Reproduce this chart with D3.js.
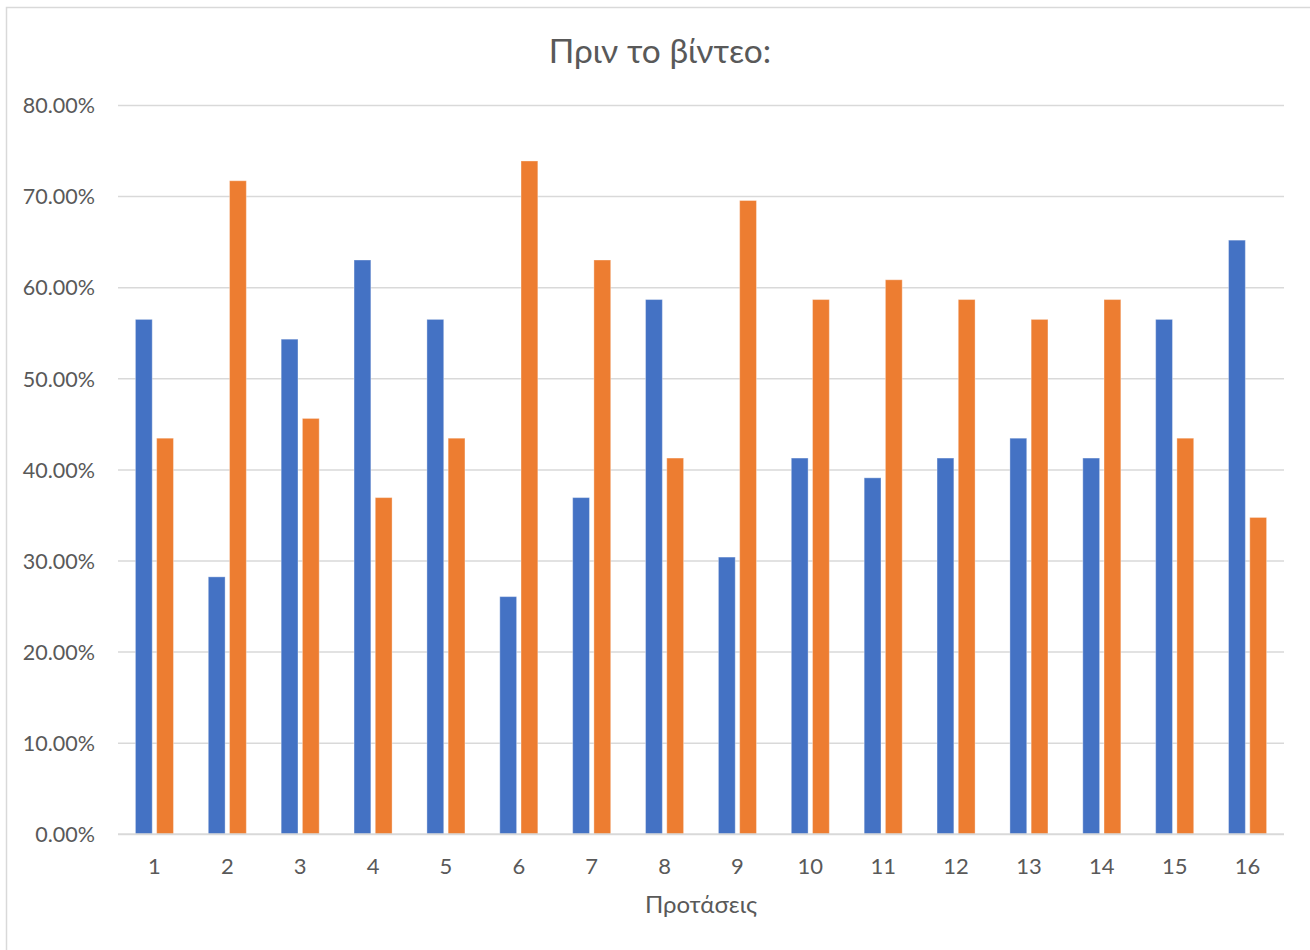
<!DOCTYPE html>
<html>
<head>
<meta charset="utf-8">
<script src="https://cdn.jsdelivr.net/npm/d3@7"></script>
<style>
  html, body { margin: 0; padding: 0; background: #ffffff; }
  svg { display: block; }
  text { font-family: Lato, "Open Sans", "Noto Sans", sans-serif; fill: #595959; }
</style>
</head>
<body>
<svg id="chart" width="1310" height="950"></svg>
<script>
// Statements 1..16 and the share of answers per statement
const categories = ["1","2","3","4","5","6","7","8","9","10","11","12","13","14","15","16"];
const seriesA = [0.5652, 0.2826, 0.5435, 0.6304, 0.5652, 0.2609, 0.3696, 0.5870,
                 0.3043, 0.4130, 0.3913, 0.4130, 0.4348, 0.4130, 0.5652, 0.6522];
const seriesB = [0.4348, 0.7174, 0.4565, 0.3696, 0.4348, 0.7391, 0.6304, 0.4130,
                 0.6957, 0.5870, 0.6087, 0.5870, 0.5652, 0.5870, 0.4348, 0.3478];
const seriesNames = ["A", "B"];
const seriesColors = ["#4472C4", "#ED7D31"];
const yTicks = [0, 0.1, 0.2, 0.3, 0.4, 0.5, 0.6, 0.7, 0.8];
const chartTitle = "Πριν το βίντεο:";
const xTitle = "Προτάσεις";

const svg = d3.select("#chart");

// chart area frame
svg.append("rect")
  .attr("x", 6.5).attr("y", 7.5)
  .attr("width", 1320).attr("height", 960)
  .attr("fill", "#ffffff")
  .attr("stroke", "#d9d9d9").attr("stroke-width", 1.5);

const plot = { left: 118, right: 1284, top: 105.5, bottom: 834.3 };

const y = d3.scaleLinear().domain([0, 0.8]).range([plot.bottom, plot.top]);

const x0 = d3.scaleBand()
  .domain(categories)
  .range([plot.left, plot.right])
  .paddingInner(0.478)
  .paddingOuter(0.239);

const x1 = d3.scaleBand()
  .domain(seriesNames)
  .range([0, x0.bandwidth()])
  .paddingInner(0.208);

// gridlines
svg.append("g")
  .selectAll("line")
  .data(yTicks.filter(d => d > 0))
  .join("line")
  .attr("x1", plot.left).attr("x2", plot.right)
  .attr("y1", d => y(d)).attr("y2", d => y(d))
  .attr("stroke", "#d9d9d9").attr("stroke-width", 1.5);

// y tick labels
const fmt = d3.format(".2%");
svg.append("g")
  .selectAll("text")
  .data(yTicks)
  .join("text")
  .attr("x", 95)
  .attr("y", d => y(d))
  .attr("dy", "0.36em")
  .attr("text-anchor", "end")
  .style("font-size", "21.5px")
  .text(d => fmt(d));

// bars
const rows = categories.map((c, i) => ({ cat: c, values: [seriesA[i], seriesB[i]] }));
const groups = svg.append("g")
  .selectAll("g")
  .data(rows)
  .join("g")
  .attr("transform", d => `translate(${x0(d.cat)},0)`);

groups.selectAll("rect")
  .data(d => d.values.map((v, k) => ({ key: seriesNames[k], value: v, color: seriesColors[k] })))
  .join("rect")
  .attr("x", d => x1(d.key))
  .attr("width", x1.bandwidth())
  .attr("y", d => y(d.value))
  .attr("height", d => y(0) - y(d.value))
  .attr("fill", d => d.color)
  .attr("stroke", "#ffffff").attr("stroke-opacity", 0.35).attr("stroke-width", 1);

// x axis line
svg.append("line")
  .attr("x1", plot.left).attr("x2", plot.right)
  .attr("y1", y(0)).attr("y2", y(0))
  .attr("stroke", "#d9d9d9").attr("stroke-width", 2);

// x tick labels
svg.append("g")
  .selectAll("text")
  .data(categories)
  .join("text")
  .attr("x", d => x0(d) + x0.bandwidth() / 2)
  .attr("y", 874)
  .attr("text-anchor", "middle")
  .style("font-size", "22px")
  .text(d => d);

// titles
svg.append("text")
  .attr("x", 660).attr("y", 63)
  .attr("text-anchor", "middle")
  .style("font-size", "33.5px")
  .text(chartTitle);

svg.append("text")
  .attr("x", (plot.left + plot.right) / 2).attr("y", 913)
  .attr("text-anchor", "middle")
  .style("font-size", "24px")
  .text(xTitle);
</script>
</body>
</html>
